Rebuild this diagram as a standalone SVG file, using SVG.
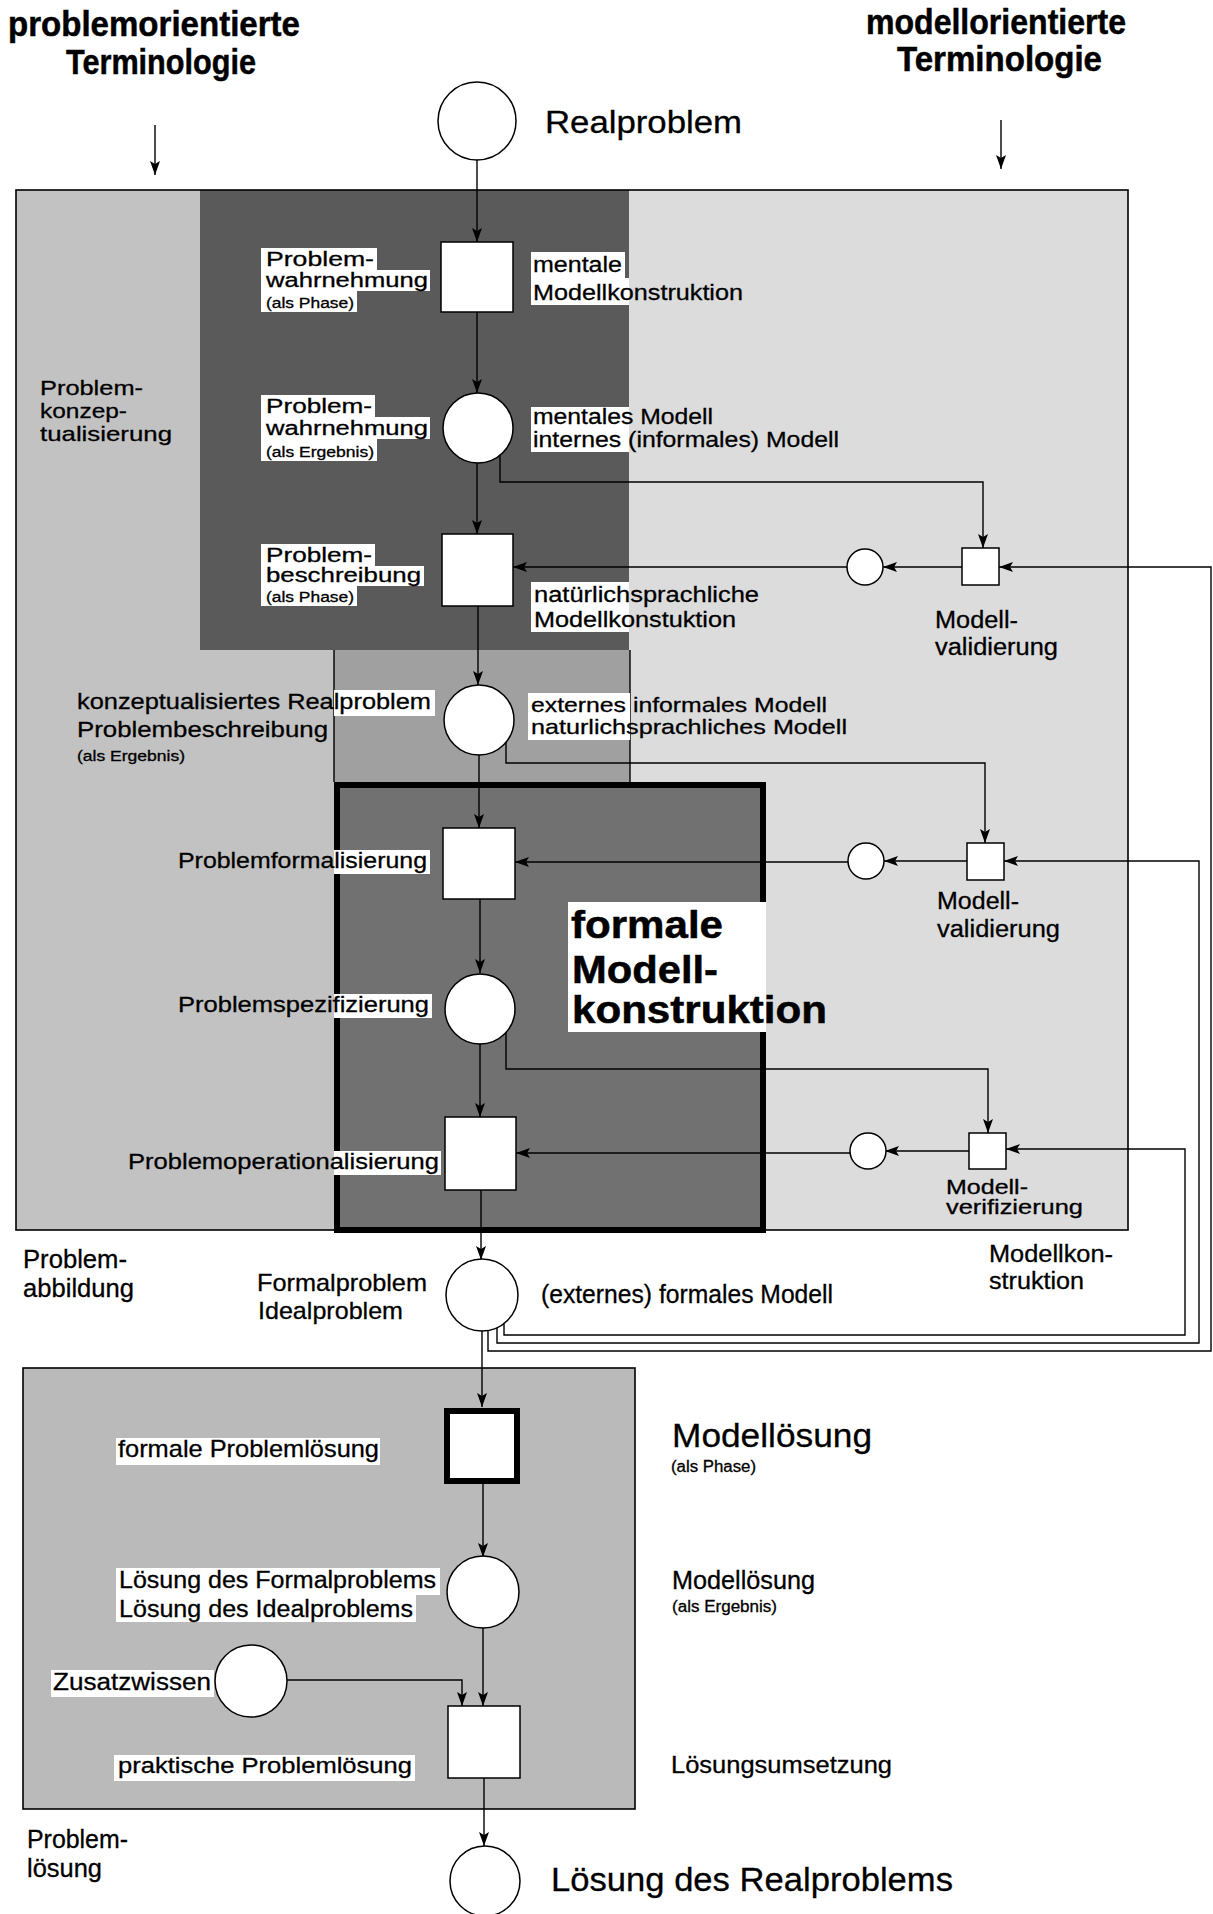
<svg xmlns="http://www.w3.org/2000/svg" width="1213" height="1914" viewBox="0 0 1213 1914">
<style>
.t{font-family:"Liberation Sans",Arial,Helvetica,sans-serif;fill:#000;stroke:#000;stroke-width:0.3}
.b{font-weight:bold;stroke-width:0.5}
.s14{font-size:14px}.s16{font-size:16px}.s20{font-size:20px}.s21{font-size:21px}.s22{font-size:22px}.s23{font-size:23px}.s24{font-size:24px}.s25{font-size:25px}.s35{font-size:35px}.s31{font-size:31px}.s33{font-size:33px}.s34{font-size:34px}.s38{font-size:38px}
.bg{fill:#fff;stroke:none}
.node{fill:#fff;stroke:#000;stroke-width:1.5}
.thick{fill:#fff;stroke:#000;stroke-width:6}
.ln{fill:none;stroke:#000;stroke-width:1.4}
.arr{fill:none;stroke:#000;stroke-width:1.4;marker-end:url(#ah)}
.frame{fill:none;stroke:#000;stroke-width:1.6}
</style>
<defs>
<marker id="ah" markerWidth="14" markerHeight="10" refX="14" refY="5" orient="auto" markerUnits="userSpaceOnUse">
<path d="M0,0 L14,5 L0,10 L3,5 z" fill="#000"/>
</marker>
</defs>
<rect x="0" y="0" width="1213" height="1914" fill="#fff"/>

<g id="regions">
<rect x="16" y="190" width="1112" height="1040" fill="#dcdcdc"/>
<path d="M16,190 H200 V650 H334 V1230 H16 Z" fill="#c2c2c2"/>
<rect x="200" y="190" width="429" height="460" fill="#5a5a5a"/>
<rect x="334" y="650" width="296" height="132" fill="#a0a0a0"/>
<rect x="16" y="190" width="1112" height="1040" class="frame"/>
<line x1="334" y1="650" x2="334" y2="782" class="ln"/>
<line x1="630" y1="650" x2="630" y2="782" class="ln"/>
<rect x="337" y="785" width="426" height="445" fill="#717171" stroke="#000" stroke-width="6"/>
<rect x="23" y="1368" width="612" height="441" class="frame" style="fill:#bababa"/>
</g>

<g id="headers">
<text class="t b s35" x="8" y="36" textLength="292" lengthAdjust="spacingAndGlyphs">problemorientierte</text>
<text class="t b s35" x="66" y="74" textLength="190" lengthAdjust="spacingAndGlyphs">Terminologie</text>
<text class="t b s35" x="866" y="34" textLength="260" lengthAdjust="spacingAndGlyphs">modellorientierte</text>
<text class="t b s35" x="897" y="71" textLength="205" lengthAdjust="spacingAndGlyphs">Terminologie</text>
<line x1="155" y1="125" x2="155" y2="175" class="arr"/>
<line x1="1001" y1="120" x2="1001" y2="169" class="arr"/>
</g>

<g id="area-labels">
<text class="t s21" x="40" y="395" textLength="103" lengthAdjust="spacingAndGlyphs">Problem-</text>
<text class="t s21" x="40" y="418" textLength="87" lengthAdjust="spacingAndGlyphs">konzep-</text>
<text class="t s21" x="40" y="441" textLength="132" lengthAdjust="spacingAndGlyphs">tualisierung</text>
<text class="t s25" x="23" y="1268" textLength="104" lengthAdjust="spacingAndGlyphs">Problem-</text>
<text class="t s25" x="23" y="1297" textLength="111" lengthAdjust="spacingAndGlyphs">abbildung</text>
<text class="t s23" x="989" y="1262" textLength="124" lengthAdjust="spacingAndGlyphs">Modellkon-</text>
<text class="t s23" x="989" y="1289" textLength="95" lengthAdjust="spacingAndGlyphs">struktion</text>
<text class="t s25" x="27" y="1848" textLength="101" lengthAdjust="spacingAndGlyphs">Problem-</text>
<text class="t s25" x="27" y="1877" textLength="75" lengthAdjust="spacingAndGlyphs">lösung</text>
<rect class="bg" x="568" y="902" width="198" height="130"/>
<text class="t b s38" x="571" y="938" textLength="152" lengthAdjust="spacingAndGlyphs">formale</text>
<text class="t b s38" x="572" y="983" textLength="146" lengthAdjust="spacingAndGlyphs">Modell-</text>
<text class="t b s38" x="572" y="1023" textLength="255" lengthAdjust="spacingAndGlyphs">konstruktion</text>
</g>

<g id="connectors">
<line x1="477" y1="160" x2="477" y2="242" class="arr"/>
<line x1="477" y1="312" x2="477" y2="393" class="arr"/>
<line x1="477" y1="463" x2="477" y2="534" class="arr"/>
<line x1="478" y1="606" x2="478" y2="685" class="arr"/>
<line x1="479" y1="755" x2="479" y2="828" class="arr"/>
<line x1="480" y1="899" x2="480" y2="973" class="arr"/>
<line x1="480" y1="1044" x2="480" y2="1117" class="arr"/>
<line x1="481" y1="1190" x2="481" y2="1260" class="arr"/>
<line x1="482" y1="1331" x2="482" y2="1407" class="arr"/>
<line x1="483" y1="1484" x2="483" y2="1557" class="arr"/>
<line x1="483" y1="1628" x2="483" y2="1706" class="arr"/>
<polyline points="287,1680 462,1680 462,1706" class="arr"/>
<line x1="484" y1="1778" x2="484" y2="1846" class="arr"/>
<polyline points="500,455 500,482 983,482 983,548" class="arr"/>
<line x1="962" y1="567" x2="883" y2="567" class="arr"/>
<line x1="847" y1="567" x2="513" y2="567" class="arr"/>
<polyline points="506,742 506,763 985,763 985,843" class="arr"/>
<line x1="967" y1="861" x2="884" y2="861" class="arr"/>
<line x1="848" y1="862" x2="515" y2="862" class="arr"/>
<polyline points="506,1032 506,1069 988,1069 988,1133" class="arr"/>
<line x1="969" y1="1151" x2="885" y2="1151" class="arr"/>
<line x1="850" y1="1153" x2="516" y2="1153" class="arr"/>
<polyline points="488,1331 488,1351 1211,1351 1211,567 999,567" class="arr"/>
<polyline points="497,1328 497,1343 1199,1343 1199,861 1004,861" class="arr"/>
<polyline points="504,1324 504,1335 1185,1335 1185,1149 1006,1149" class="arr"/>
</g>

<g id="n-realproblem">
<circle cx="477" cy="121" r="39" class="node"/>
<text class="t s31" x="545" y="133" textLength="197" lengthAdjust="spacingAndGlyphs">Realproblem</text>
</g>

<g id="n-wahrnehmung-phase">
<rect x="441" y="242" width="72" height="70" class="node"/>
<rect class="bg" x="261" y="248" width="116" height="22"/>
<rect class="bg" x="261" y="270" width="169" height="21"/>
<rect class="bg" x="261" y="291" width="96" height="21"/>
<text class="t s20" x="266" y="266" textLength="108" lengthAdjust="spacingAndGlyphs">Problem-</text>
<text class="t s20" x="266" y="287" textLength="162" lengthAdjust="spacingAndGlyphs">wahrnehmung</text>
<text class="t s14" x="266" y="308" textLength="88" lengthAdjust="spacingAndGlyphs">(als Phase)</text>
<rect class="bg" x="531" y="252" width="94" height="26"/>
<rect class="bg" x="531" y="278" width="98" height="27"/>
<text class="t s22" x="533" y="272" textLength="89" lengthAdjust="spacingAndGlyphs">mentale</text>
<text class="t s22" x="533" y="300" textLength="210" lengthAdjust="spacingAndGlyphs">Modellkonstruktion</text>
</g>

<g id="n-wahrnehmung-ergebnis">
<circle cx="478" cy="428" r="35" class="node"/>
<rect class="bg" x="261" y="395" width="114" height="22"/>
<rect class="bg" x="261" y="417" width="169" height="22"/>
<rect class="bg" x="261" y="439" width="116" height="22"/>
<text class="t s20" x="266" y="413" textLength="106" lengthAdjust="spacingAndGlyphs">Problem-</text>
<text class="t s20" x="266" y="435" textLength="162" lengthAdjust="spacingAndGlyphs">wahrnehmung</text>
<text class="t s14" x="266" y="457" textLength="108" lengthAdjust="spacingAndGlyphs">(als Ergebnis)</text>
<rect class="bg" x="531" y="407" width="98" height="45"/>
<text class="t s22" x="533" y="424" textLength="180" lengthAdjust="spacingAndGlyphs">mentales Modell</text>
<text class="t s22" x="533" y="447" textLength="306" lengthAdjust="spacingAndGlyphs">internes (informales) Modell</text>
</g>

<g id="n-beschreibung-phase">
<rect x="442" y="534" width="71" height="72" class="node"/>
<rect class="bg" x="261" y="544" width="114" height="22"/>
<rect class="bg" x="261" y="566" width="163" height="20"/>
<rect class="bg" x="261" y="586" width="96" height="20"/>
<text class="t s20" x="266" y="562" textLength="106" lengthAdjust="spacingAndGlyphs">Problem-</text>
<text class="t s20" x="266" y="582" textLength="155" lengthAdjust="spacingAndGlyphs">beschreibung</text>
<text class="t s14" x="266" y="602" textLength="88" lengthAdjust="spacingAndGlyphs">(als Phase)</text>
<rect class="bg" x="531" y="582" width="98" height="50"/>
<text class="t s22" x="534" y="602" textLength="225" lengthAdjust="spacingAndGlyphs">natürlichsprachliche</text>
<text class="t s22" x="534" y="627" textLength="202" lengthAdjust="spacingAndGlyphs">Modellkonstuktion</text>
</g>

<g id="n-konzeptualisiert">
<circle cx="479" cy="720" r="35" class="node"/>
<rect class="bg" x="334" y="690" width="101" height="26"/>
<text class="t s22" x="77" y="709" textLength="354" lengthAdjust="spacingAndGlyphs">konzeptualisiertes Realproblem</text>
<text class="t s22" x="77" y="737" textLength="251" lengthAdjust="spacingAndGlyphs">Problembeschreibung</text>
<text class="t s14" x="77" y="761" textLength="108" lengthAdjust="spacingAndGlyphs">(als Ergebnis)</text>
<rect class="bg" x="528" y="693" width="102" height="47"/>
<text class="t s21" x="531" y="712" textLength="296" lengthAdjust="spacingAndGlyphs">externes informales Modell</text>
<text class="t s21" x="531" y="734" textLength="316" lengthAdjust="spacingAndGlyphs">naturlichsprachliches Modell</text>
</g>

<g id="n-formalisierung">
<rect x="443" y="828" width="72" height="71" class="node"/>
<rect class="bg" x="334" y="850" width="96" height="24"/>
<text class="t s22" x="178" y="868" textLength="249" lengthAdjust="spacingAndGlyphs">Problemformalisierung</text>
</g>

<g id="n-spezifizierung">
<circle cx="480" cy="1009" r="35" class="node"/>
<rect class="bg" x="334" y="994" width="98" height="24"/>
<text class="t s22" x="178" y="1012" textLength="251" lengthAdjust="spacingAndGlyphs">Problemspezifizierung</text>
</g>

<g id="n-operationalisierung">
<rect x="445" y="1117" width="71" height="73" class="node"/>
<rect class="bg" x="334" y="1151" width="107" height="24"/>
<text class="t s22" x="128" y="1169" textLength="311" lengthAdjust="spacingAndGlyphs">Problemoperationalisierung</text>
</g>

<g id="n-validierung-1">
<circle cx="865" cy="567" r="18" class="node"/>
<rect x="962" y="548" width="37" height="37" class="node"/>
<text class="t s23" x="935" y="628" textLength="83" lengthAdjust="spacingAndGlyphs">Modell-</text>
<text class="t s23" x="935" y="655" textLength="123" lengthAdjust="spacingAndGlyphs">validierung</text>
</g>

<g id="n-validierung-2">
<circle cx="866" cy="861" r="18" class="node"/>
<rect x="967" y="843" width="37" height="37" class="node"/>
<text class="t s23" x="937" y="909" textLength="82" lengthAdjust="spacingAndGlyphs">Modell-</text>
<text class="t s23" x="937" y="937" textLength="123" lengthAdjust="spacingAndGlyphs">validierung</text>
</g>

<g id="n-verifizierung">
<circle cx="868" cy="1151" r="18" class="node"/>
<rect x="969" y="1133" width="37" height="36" class="node"/>
<text class="t s20" x="946" y="1194" textLength="82" lengthAdjust="spacingAndGlyphs">Modell-</text>
<text class="t s20" x="946" y="1214" textLength="137" lengthAdjust="spacingAndGlyphs">verifizierung</text>
</g>

<g id="n-formalproblem">
<circle cx="482" cy="1295" r="36" class="node"/>
<text class="t s24" x="257" y="1291" textLength="170" lengthAdjust="spacingAndGlyphs">Formalproblem</text>
<text class="t s24" x="258" y="1319" textLength="145" lengthAdjust="spacingAndGlyphs">Idealproblem</text>
<text class="t s25" x="541" y="1303" textLength="292" lengthAdjust="spacingAndGlyphs">(externes) formales Modell</text>
</g>

<g id="n-formale-problemloesung">
<rect x="447" y="1411" width="70" height="70" class="thick"/>
<rect class="bg" x="116" y="1438" width="264" height="27"/>
<text class="t s24" x="118" y="1457" textLength="261" lengthAdjust="spacingAndGlyphs">formale Problemlösung</text>
<text class="t s33" x="672" y="1447" textLength="200" lengthAdjust="spacingAndGlyphs">Modellösung</text>
<text class="t s16" x="671" y="1472" textLength="85" lengthAdjust="spacingAndGlyphs">(als Phase)</text>
</g>

<g id="n-loesung-formalproblem">
<circle cx="483" cy="1592" r="36" class="node"/>
<rect class="bg" x="116" y="1568" width="324" height="27"/>
<rect class="bg" x="116" y="1595" width="300" height="27"/>
<text class="t s23" x="119" y="1588" textLength="317" lengthAdjust="spacingAndGlyphs">Lösung des Formalproblems</text>
<text class="t s23" x="119" y="1617" textLength="294" lengthAdjust="spacingAndGlyphs">Lösung des Idealproblems</text>
<text class="t s25" x="672" y="1589" textLength="143" lengthAdjust="spacingAndGlyphs">Modellösung</text>
<text class="t s16" x="672" y="1612" textLength="105" lengthAdjust="spacingAndGlyphs">(als Ergebnis)</text>
</g>

<g id="n-zusatzwissen">
<circle cx="251" cy="1681" r="36" class="node"/>
<rect class="bg" x="51" y="1670" width="163" height="27"/>
<text class="t s23" x="53" y="1690" textLength="158" lengthAdjust="spacingAndGlyphs">Zusatzwissen</text>
</g>

<g id="n-praktische-problemloesung">
<rect x="448" y="1706" width="72" height="72" class="node"/>
<rect class="bg" x="114" y="1755" width="301" height="26"/>
<text class="t s22" x="118" y="1773" textLength="294" lengthAdjust="spacingAndGlyphs">praktische Problemlösung</text>
<text class="t s24" x="671" y="1773" textLength="221" lengthAdjust="spacingAndGlyphs">Lösungsumsetzung</text>
</g>

<g id="n-loesung-realproblem">
<circle cx="485" cy="1881" r="35" class="node"/>
<text class="t s34" x="551" y="1891" textLength="402" lengthAdjust="spacingAndGlyphs">Lösung des Realproblems</text>
</g>
</svg>
